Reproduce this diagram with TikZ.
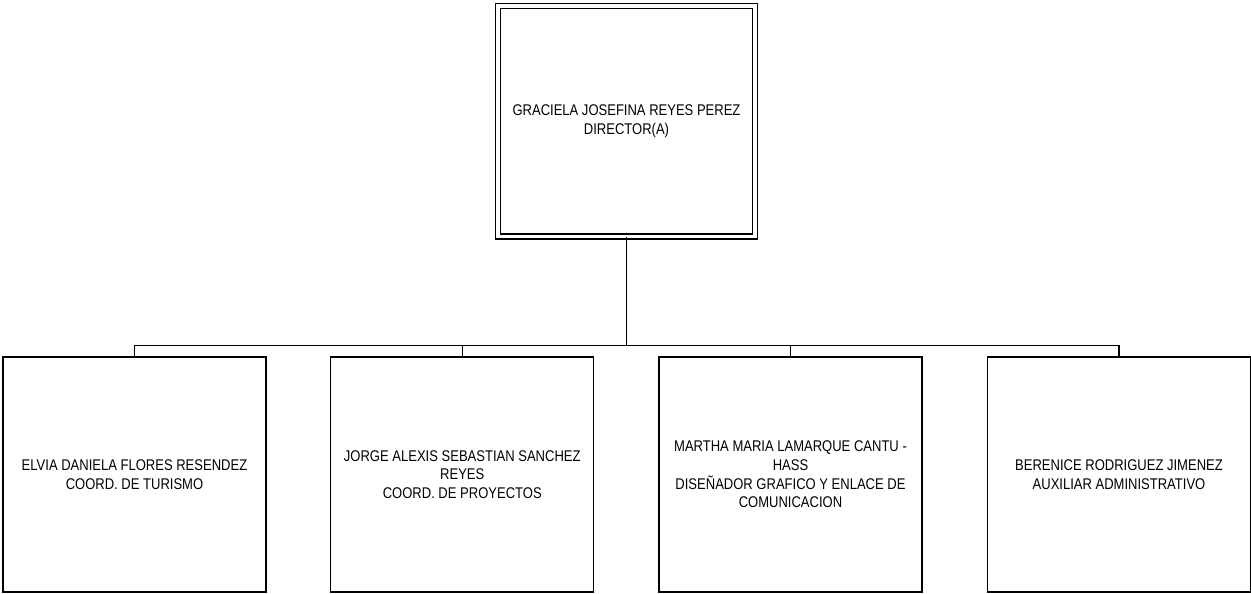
\documentclass[tikz,border=0pt]{standalone}
\usepackage{fontspec}
\setmainfont{Liberation Sans}[FakeStretch=0.84]
\begin{document}
\begin{tikzpicture}[x=1pt,y=-1pt,
  box/.style={draw=black,line width=1.4pt,minimum width=263pt,minimum height=235pt,inner sep=0pt,align=center,font=\fontsize{15.5}{18.6}\selectfont},
  topbox/.style={draw=black,line width=1.3pt,double,double distance=3.7pt,minimum width=257pt,minimum height=230.5pt,inner sep=0pt,align=center,font=\fontsize{15.5}{18.6}\selectfont},
  link/.style={line width=1.5pt,draw=black}]
\useasboundingbox (0,0) rectangle (1251,594);
\node[topbox] (top) at (626.5,121.25) {GRACIELA JOSEFINA REYES PEREZ\\DIRECTOR(A)};
\node[box] (c1) at (134.5,474.5) {ELVIA DANIELA FLORES RESENDEZ\\COORD. DE TURISMO};
\node[box] (c2) at (462.25,474.5) {JORGE ALEXIS SEBASTIAN SANCHEZ\\REYES\\COORD. DE PROYECTOS};
\node[box] (c3) at (790.5,474.5) {MARTHA MARIA LAMARQUE CANTU -\\HASS\\DISEÑADOR GRAFICO Y ENLACE DE\\COMUNICACION};
\node[box] (c4) at (1119,474.5) {BERENICE RODRIGUEZ JIMENEZ\\AUXILIAR ADMINISTRATIVO};
\coordinate (bus) at (626.5,345.7);
\draw[link] (top.south) -- (bus);
\draw[link] (c1.north) -- (c1.north |- bus) -- (c4.north |- bus) -- (c4.north);
\draw[link] (c2.north) -- (c2.north |- bus);
\draw[link] (c3.north) -- (c3.north |- bus);
\end{tikzpicture}
\end{document}
